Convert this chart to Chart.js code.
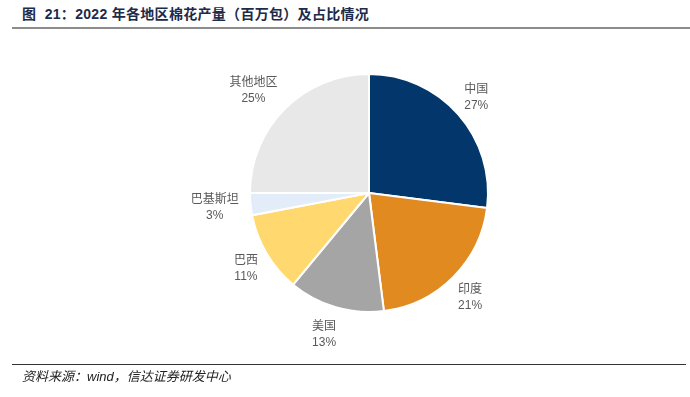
<!DOCTYPE html>
<html><head><meta charset="utf-8">
<script src="https://cdn.jsdelivr.net/npm/chart.js@4"></script>
<style>
html,body{margin:0;padding:0;background:#fff;}
#wrap{position:relative;width:690px;height:397px;overflow:hidden;}
#title{position:absolute;left:22px;top:3px;font:bold 14px "Liberation Sans","Noto Sans CJK SC",sans-serif;color:#1c2b4a;white-space:nowrap;letter-spacing:0.3px;}
#tline{position:absolute;left:12px;top:27px;width:678px;height:2px;background:#8c8c8c;}
#bline{position:absolute;left:12px;top:364px;width:674px;height:1px;background:#333;}
#src{position:absolute;left:22px;top:366px;font:italic 13px "Liberation Sans","Noto Sans CJK SC",sans-serif;color:#222;white-space:nowrap;letter-spacing:0px;}
canvas{position:absolute;left:0;top:0;}
</style></head>
<body><div id="wrap">
<div id="title">图&nbsp; 21：2022 年各地区棉花产量（百万包）及占比情况</div>
<div id="tline"></div>
<canvas id="c" width="690" height="397"></canvas>
<div id="bline"></div>
<div id="src">资料来源：wind，信达证券研发中心</div>
</div>
<script>
const categories = ["中国","印度","美国","巴西","巴基斯坦","其他地区"];
const shares = [27,21,13,11,3,25];
const sliceColors = ["#03366a","#e08a20","#a5a5a5","#ffd970","#e3edf9","#e8e8e8"];

const outLabels = {
  id:'outLabels',
  afterDatasetsDraw(chart){
    const ctx = chart.ctx;
    const meta = chart.getDatasetMeta(0);
    ctx.save();
    ctx.fillStyle = '#595959';
    ctx.textAlign = 'center';
    ctx.textBaseline = 'middle';
    meta.data.forEach((arc,i)=>{
      const p = arc.getProps(['x','y','startAngle','endAngle','outerRadius'],true);
      const a = (p.startAngle+p.endAngle)/2;
      const cx = Math.cos(a), sy = Math.sin(a);
      ctx.font = '12px "Noto Sans CJK SC","Liberation Sans",sans-serif';
      const w = ctx.measureText(categories[i]).width;
      const h = 30;
      const d = p.outerRadius + 12;
      const x = p.x + cx*d + cx*w/2 - (cx < -0.5 && sy < 0 ? 6 : 0) - (sy > 0.9 ? 5 : 0);
      const y = p.y + sy*d + sy*h/2;
      ctx.fillText(categories[i], x, y-8);
      ctx.font = '12px "Liberation Sans","Noto Sans",sans-serif';
      ctx.fillText(shares[i]+'%', x, y+9);
    });
    ctx.restore();
  }
};

new Chart(document.getElementById('c'),{
  type:'pie',
  data:{labels:categories,datasets:[{data:shares,backgroundColor:sliceColors,borderColor:'#ffffff',borderWidth:2}]},
  options:{
    responsive:false,animation:false,
    layout:{padding:{left:249,right:201,top:73,bottom:84}},
    plugins:{legend:{display:false},tooltip:{enabled:false}}
  },
  plugins:[outLabels]
});
</script>
</body></html>
